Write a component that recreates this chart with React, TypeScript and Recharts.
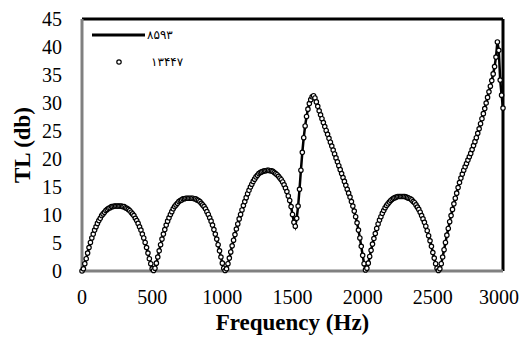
import { LineChart, Line, XAxis, YAxis, Legend, ReferenceLine } from "recharts";

document.body.style.margin = "0";

// frequency (Hz), one point every 10 Hz as in the source
const FREQ = [
  0, 10, 20, 30, 40, 50, 60, 70, 80, 90,
  100, 110, 120, 130, 140, 150, 160, 170, 180, 190,
  200, 210, 220, 230, 240, 250, 260, 270, 280, 290,
  300, 310, 320, 330, 340, 350, 360, 370, 380, 390,
  400, 410, 420, 430, 440, 450, 460, 470, 480, 490,
  500, 510, 520, 530, 540, 550, 560, 570, 580, 590,
  600, 610, 620, 630, 640, 650, 660, 670, 680, 690,
  700, 710, 720, 730, 740, 750, 760, 770, 780, 790,
  800, 810, 820, 830, 840, 850, 860, 870, 880, 890,
  900, 910, 920, 930, 940, 950, 960, 970, 980, 990,
  1000, 1010, 1020, 1030, 1040, 1050, 1060, 1070, 1080, 1090,
  1100, 1110, 1120, 1130, 1140, 1150, 1160, 1170, 1180, 1190,
  1200, 1210, 1220, 1230, 1240, 1250, 1260, 1270, 1280, 1290,
  1300, 1310, 1320, 1330, 1340, 1350, 1360, 1370, 1380, 1390,
  1400, 1410, 1420, 1430, 1440, 1450, 1460, 1470, 1480, 1490,
  1500, 1510, 1520, 1530, 1540, 1550, 1560, 1570, 1580, 1590,
  1600, 1610, 1620, 1630, 1640, 1650, 1660, 1670, 1680, 1690,
  1700, 1710, 1720, 1730, 1740, 1750, 1760, 1770, 1780, 1790,
  1800, 1810, 1820, 1830, 1840, 1850, 1860, 1870, 1880, 1890,
  1900, 1910, 1920, 1930, 1940, 1950, 1960, 1970, 1980, 1990,
  2000, 2010, 2020, 2030, 2040, 2050, 2060, 2070, 2080, 2090,
  2100, 2110, 2120, 2130, 2140, 2150, 2160, 2170, 2180, 2190,
  2200, 2210, 2220, 2230, 2240, 2250, 2260, 2270, 2280, 2290,
  2300, 2310, 2320, 2330, 2340, 2350, 2360, 2370, 2380, 2390,
  2400, 2410, 2420, 2430, 2440, 2450, 2460, 2470, 2480, 2490,
  2500, 2510, 2520, 2530, 2540, 2550, 2560, 2570, 2580, 2590,
  2600, 2610, 2620, 2630, 2640, 2650, 2660, 2670, 2680, 2690,
  2700, 2710, 2720, 2730, 2740, 2750, 2760, 2770, 2780, 2790,
  2800, 2810, 2820, 2830, 2840, 2850, 2860, 2870, 2880, 2890,
  2900, 2910, 2920, 2930, 2940, 2950, 2960, 2970, 2980, 2990,
  3000,
];

// TL (db), 13447 mesh (open circles)
const TL_13447 = [
  0, 0.4, 1.3, 2.2, 3.2, 4.2, 5.1, 5.9, 6.6, 7.3,
  7.9, 8.5, 9.0, 9.4, 9.9, 10.2, 10.5, 10.8, 11.0, 11.2,
  11.3, 11.5, 11.5, 11.6, 11.6, 11.6, 11.6, 11.6, 11.6, 11.5,
  11.5, 11.3, 11.2, 11.0, 10.8, 10.5, 10.2, 9.9, 9.4, 9.0,
  8.5, 7.9, 7.3, 6.6, 5.9, 5.1, 4.2, 3.2, 2.2, 1.3,
  0.4, 0.1, 0.5, 1.4, 2.5, 3.6, 4.7, 5.7, 6.6, 7.4,
  8.2, 8.9, 9.5, 10.1, 10.6, 11.1, 11.5, 11.8, 12.1, 12.4,
  12.6, 12.7, 12.9, 12.9, 13.0, 13.0, 13.0, 13.0, 13.0, 13.0,
  12.9, 12.9, 12.7, 12.6, 12.4, 12.1, 11.8, 11.5, 11.1, 10.6,
  10.1, 9.5, 8.9, 8.2, 7.4, 6.6, 5.7, 4.7, 3.6, 2.5,
  1.4, 0.5, 0.1, 0.4, 1.3, 2.3, 3.4, 4.5, 5.5, 6.5,
  7.5, 8.4, 9.3, 10.1, 10.9, 11.7, 12.4, 13.1, 13.8, 14.4,
  15.0, 15.5, 16.0, 16.4, 16.8, 17.1, 17.4, 17.6, 17.7, 17.8,
  17.9, 17.9, 18.0, 18.0, 17.9, 17.9, 17.8, 17.6, 17.4, 17.2,
  16.9, 16.6, 16.3, 15.9, 15.4, 14.8, 14.2, 13.4, 12.6, 11.5,
  10.1, 8.7, 8.0, 9.4, 11.6, 14.6, 18.0, 21.2, 23.8, 25.9,
  27.6, 28.9, 29.9, 30.6, 31.1, 31.3, 30.9, 30.2, 29.4, 28.6,
  27.9, 27.2, 26.5, 25.8, 25.1, 24.4, 23.7, 23.0, 22.3, 21.6,
  20.9, 20.2, 19.5, 18.8, 18.1, 17.4, 16.7, 16.0, 15.3, 14.6,
  13.9, 13.2, 12.4, 11.6, 10.7, 9.7, 8.6, 7.3, 5.9, 4.4,
  2.8, 1.3, 0.2, 0.5, 1.4, 2.6, 3.7, 4.8, 5.8, 6.7,
  7.6, 8.4, 9.1, 9.7, 10.3, 10.8, 11.3, 11.7, 12.0, 12.3,
  12.6, 12.8, 13.0, 13.1, 13.2, 13.3, 13.3, 13.3, 13.3, 13.3,
  13.3, 13.2, 13.1, 13.0, 12.9, 12.7, 12.4, 12.2, 11.8, 11.4,
  11.0, 10.5, 9.9, 9.3, 8.7, 8.0, 7.2, 6.3, 5.4, 4.4,
  3.3, 2.3, 1.3, 0.5, 0.1, 0.4, 1.3, 2.5, 3.8, 5.1,
  6.4, 7.6, 8.8, 9.9, 11.0, 12.0, 13.0, 13.9, 14.9, 15.8,
  16.6, 17.3, 18.0, 18.6, 19.2, 19.8, 20.4, 21.0, 21.7, 22.4,
  23.1, 23.8, 24.6, 25.4, 26.3, 27.2, 28.1, 29.0, 30.0, 31.0,
  32.0, 33.0, 34.0, 35.2, 36.5, 38.2, 40.9, 39.4, 34.1, 31.4,
  29.1,
];

// 8593 mesh (solid line) - sits right under the circles at this scale
const TL_8593 = TL_13447;

const X_TICKS = [0, 500, 1000, 1500, 2000, 2500, 3000];
const Y_TICKS = [0, 5, 10, 15, 20, 25, 30, 35, 40, 45];
const SERIES_NAMES = ["۸۵۹۳", "۱۳۴۴۷"];

const data = FREQ.map((f, i) => ({ f, coarse: TL_8593[i], fine: TL_13447[i] }));

const serif = "Liberation Serif";
const persian = "DejaVu Sans";

function LegendBox() {
  return (
    <svg width={120} height={52} style={{ display: "block" }}>
      <line x1={4} y1={15} x2={57} y2={15} stroke="#000" strokeWidth={3} />
      <text x={59} y={19} fontSize={12} fontFamily={persian} letterSpacing={-1} fill="#000">
        {SERIES_NAMES[0]}
      </text>
      <circle cx={31} cy={42} r={2.2} fill="#fff" stroke="#000" strokeWidth={1.2} />
      <text x={63} y={46} fontSize={12} fontFamily={persian} letterSpacing={-1} fill="#000">
        {SERIES_NAMES[1]}
      </text>
    </svg>
  );
}

function XTick({ x, y, payload }: any) {
  // last label is pulled in a little, as in the source
  const dx = payload.value === 3000 ? -4 : 0;
  return (
    <text x={x} y={y} dx={dx} dy={14} textAnchor="middle" fontSize={20} fontFamily={serif} fill="#000">
      {payload.value}
    </text>
  );
}

function YTick({ x, y, payload }: any) {
  return (
    <text x={x} y={y} dy={7} textAnchor="end" fontSize={20} fontFamily={serif} fill="#000">
      {payload.value}
    </text>
  );
}

export default function App() {
  const axisLine = { stroke: "#808080", strokeWidth: 3 };

  return (
    <LineChart width={525} height={342} data={data} margin={{ top: 19, right: 22, bottom: 0, left: 0 }}>
      <XAxis
        dataKey="f"
        type="number"
        domain={[0, 3000]}
        ticks={X_TICKS}
        interval={0}
        tick={<XTick />}
        tickLine={false}
        tickSize={0}
        tickMargin={19}
        axisLine={axisLine}
        height={71}
        label={{
          value: "Frequency (Hz)",
          position: "insideBottom",
          offset: 12,
          fill: "#000",
          fontSize: 23,
          fontWeight: "bold",
          fontFamily: serif,
        }}
      />
      <YAxis
        type="number"
        domain={[0, 45]}
        ticks={Y_TICKS}
        interval={0}
        width={82}
        tick={<YTick />}
        tickLine={false}
        tickSize={0}
        tickMargin={20}
        axisLine={axisLine}
        label={{
          value: "TL (db)",
          angle: -90,
          position: "insideLeft",
          offset: 22,
          fill: "#000",
          fontSize: 23,
          fontWeight: "bold",
          fontFamily: serif,
          style: { textAnchor: "middle" },
        }}
      />
      <ReferenceLine y={45} stroke="#000" strokeWidth={3} />
      <ReferenceLine x={3000} stroke="#000" strokeWidth={3} />
      <Legend
        layout="vertical"
        align="center"
        verticalAlign="middle"
        content={() => <LegendBox />}
        wrapperStyle={{ left: 88, top: 20, width: 120, height: 52 }}
      />
      <Line
        type="linear"
        dataKey="coarse"
        name={SERIES_NAMES[0]}
        stroke="#000"
        strokeWidth={2.5}
        dot={false}
        activeDot={false}
        isAnimationActive={false}
      />
      <Line
        type="linear"
        dataKey="fine"
        name={SERIES_NAMES[1]}
        stroke="none"
        dot={{ r: 2.2, fill: "#fff", stroke: "#000", strokeWidth: 1.2 }}
        activeDot={false}
        isAnimationActive={false}
      />
    </LineChart>
  );
}
